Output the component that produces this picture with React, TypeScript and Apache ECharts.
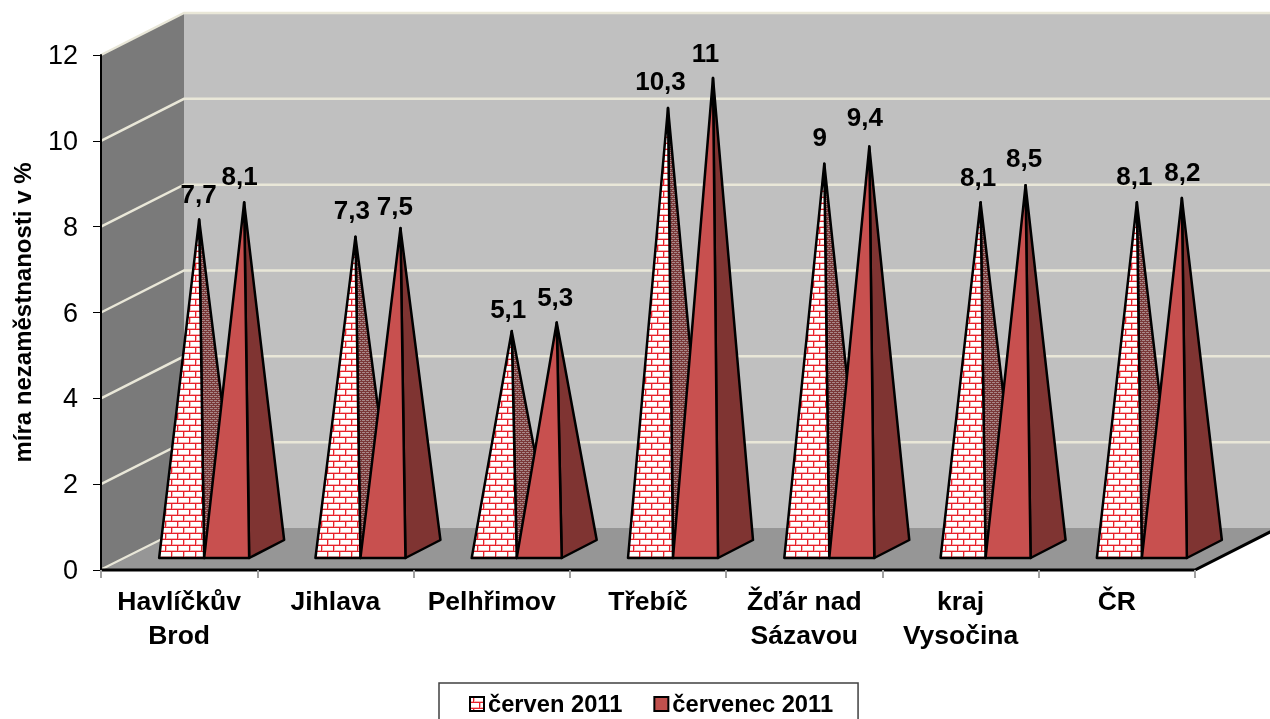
import React, { useEffect, useRef } from "react";
import * as echarts from "echarts";

const categories = ["Havlíčkův\nBrod", "Jihlava", "Pelhřimov", "Třebíč", "Žďár nad\nSázavou", "kraj\nVysočina", "ČR"];
const june = [7.7, 7.3, 5.1, 10.3, 9, 8.1, 8.1];
const july = [8.1, 7.5, 5.3, 11, 9.4, 8.5, 8.2];
const juneName = "červen 2011";
const julyName = "červenec 2011";
const gridValues = [0, 2, 4, 6, 8, 10, 12];
const font = "Liberation Sans, Arial, sans-serif";

// hand nudges of the data labels relative to their apex, as placed in the reference
const juneLabelDx = [0, -3, -3, -7, -4, -2, -2];
const juneLabelDy = [0, -1, 4, -1, -1, 1, 0];
const julyLabelDx = [-4, -5, -1, -7, -4, -1, 1];
const julyLabelDy = [0, 4, 0, 1, -4, -1, 0];

const WALL_DX = 83;
const WALL_DY = 42;
const SLOT = 45;
const DEPTH_X = 35;
const DEPTH_Y = 18;

function brick(size: number, bg: string, halo: string, line: string, lw: number) {
  const c = document.createElement("canvas");
  c.width = size;
  c.height = size;
  const g = c.getContext("2d")!;
  g.fillStyle = bg;
  g.fillRect(0, 0, size, size);
  const h = size / 2;
  const draw = (w: number) => {
    g.fillRect(0, h - w, size, w);
    g.fillRect(0, size - w, size, w);
    g.fillRect(size / 4, 0, w, h);
    g.fillRect((3 * size) / 4, h, w, h);
  };
  g.fillStyle = halo;
  draw(lw + 1);
  g.fillStyle = line;
  draw(lw);
  return c;
}

function App() {
  const ref = useRef<HTMLDivElement>(null);
  useEffect(() => {
    const chart = echarts.init(ref.current!, null, { renderer: "svg" });
    const frontPattern = { image: brick(12, "#ffffff", "#f8b4b4", "#e8202a", 1), repeat: "repeat" };
    const sidePattern = { image: brick(4, "#c8bcbc", "#a88888", "#7a3838", 1), repeat: "repeat" };

    const pyramid = (slotOffset: number, front: any, side: any, labels: number[], ldx: number[], ldy: number[]) =>
      (params: any, api: any) => {
        const i = api.value(0);
        const v = api.value(1);
        const base = api.coord([i, 0]);
        const top = api.coord([i, v]);
        const depthUp = 12;
        const cx = base[0] + (depthUp + DEPTH_Y / 2) * (WALL_DX / WALL_DY) + slotOffset * SLOT + 1;
        const apex = [cx, top[1] - depthUp - DEPTH_Y / 2 + 1];
        const y0 = base[1] - depthUp;
        const x0 = cx - SLOT / 2 - DEPTH_X / 2;
        const x1 = x0 + SLOT;
        const stroke = { stroke: "#000", lineWidth: 2.5, lineJoin: "round" };
        return {
          type: "group",
          children: [
            {
              type: "polygon",
              shape: { points: [[x1, y0], [x1 + DEPTH_X, y0 - DEPTH_Y], apex] },
              style: { fill: side, ...stroke },
            },
            {
              type: "polygon",
              shape: { points: [[x0, y0], [x1, y0], apex] },
              style: { fill: front, ...stroke },
            },
            {
              type: "text",
              x: apex[0] - 0.5 + ldx[i],
              y: apex[1] - 26 + ldy[i],
              style: {
                text: String(labels[i]).replace(".", ","),
                font: `bold 26px ${font}`,
                fill: "#000",
                textAlign: "center",
                textVerticalAlign: "middle",
              },
            },
          ],
        };
      };

    const walls = (params: any, api: any) => {
      const o = api.coord([0, 0]);
      const left = params.coordSys.x;
      const right = left + params.coordSys.width;
      const bottom = o[1];
      const top = api.coord([0, 12])[1];
      const children: any[] = [
        {
          type: "polygon",
          shape: { points: [[left + WALL_DX, top - WALL_DY], [right + WALL_DX, top - WALL_DY], [right + WALL_DX, bottom - WALL_DY], [left + WALL_DX, bottom - WALL_DY]] },
          style: { fill: "#c0c0c0" },
        },
        {
          type: "polygon",
          shape: { points: [[left, top], [left + WALL_DX, top - WALL_DY], [left + WALL_DX, bottom - WALL_DY], [left, bottom]] },
          style: { fill: "#7a7a7a" },
        },
      ];
      gridValues.forEach((g) => {
        const y = api.coord([0, g])[1];
        if (g !== 0) {
          children.push({
            type: "polyline",
            shape: { points: [[left, y], [left + WALL_DX, y - WALL_DY], [right + WALL_DX, y - WALL_DY]] },
            style: { fill: "none", stroke: "#e9e7d8", lineWidth: 2.5 },
          });
        }
      });
      children.push({
        type: "polygon",
        shape: { points: [[left, bottom], [right, bottom], [right + WALL_DX, bottom - WALL_DY], [left + WALL_DX, bottom - WALL_DY]] },
        style: { fill: "#969696" },
      });
      children.push({
        type: "line",
        shape: { x1: left + 1, y1: bottom - 1, x2: left + WALL_DX, y2: bottom - WALL_DY },
        style: { stroke: "#e9e7d8", lineWidth: 2 },
      });
      children.push({
        type: "polyline",
        shape: { points: [[left, bottom], [right, bottom], [right + WALL_DX, bottom - WALL_DY]] },
        style: { fill: "none", stroke: "#000", lineWidth: 3 },
      });
      return { type: "group", children };
    };

    chart.setOption({
      animation: false,
      textStyle: { fontFamily: font },
      grid: { left: 101, right: 75, top: 55, height: 515, containLabel: false },
      legend: {
        data: [juneName, julyName],
        left: 439,
        top: 683,
        orient: "horizontal",
        padding: [9, 25, 8, 30],
        itemGap: 31,
        itemWidth: 14,
        itemHeight: 14,
        icon: "rect",
        borderColor: "#404040",
        borderWidth: 1.5,
        backgroundColor: "#fff",
        textStyle: { fontFamily: font, fontSize: 23.7, fontWeight: "bold", color: "#000", padding: [0, 0, 0, -1] },
      },
      xAxis: {
        type: "category",
        data: categories,
        boundaryGap: true,
        axisLine: { show: false },
        axisTick: { show: true, alignWithLabel: false, length: 8, lineStyle: { color: "#a0a0a0", width: 2 } },
        axisLabel: { interval: 0, color: "#000", fontFamily: font, fontSize: 26.5, fontWeight: "bold", lineHeight: 34, margin: 14 },
        splitLine: { show: false },
      },
      yAxis: {
        type: "value",
        min: 0,
        max: 12,
        interval: 2,
        name: "míra nezaměstnanosti v %",
        nameLocation: "middle",
        nameGap: 67,
        nameTextStyle: { fontFamily: font, fontSize: 24, fontWeight: "bold", color: "#000" },
        axisLine: { show: true, lineStyle: { color: "#000", width: 2 } },
        axisTick: { show: true, length: 8, lineStyle: { color: "#000", width: 1 } },
        axisLabel: { color: "#000", fontFamily: font, fontSize: 27, margin: 23 },
        splitLine: { show: false },
      },
      series: [
        {
          type: "custom",
          name: "walls",
          z: -1,
          silent: true,
          renderItem: walls,
          data: [[0, 12]],
          encode: { x: 0, y: 1 },
          clip: false,
        },
        {
          type: "custom",
          name: juneName,
          z: 3,
          renderItem: pyramid(-0.5, frontPattern, sidePattern, june, juneLabelDx, juneLabelDy),
          data: june.map((v, i) => [i, v]),
          encode: { x: 0, y: 1 },
          itemStyle: { color: frontPattern, borderColor: "#000", borderWidth: 2 },
          clip: false,
        },
        {
          type: "custom",
          name: julyName,
          z: 4,
          renderItem: pyramid(0.5, "#c8504f", "#7f3432", july, julyLabelDx, julyLabelDy),
          data: july.map((v, i) => [i, v]),
          encode: { x: 0, y: 1 },
          itemStyle: { color: "#c0504d", borderColor: "#000", borderWidth: 2 },
          clip: false,
        },
      ],
    });
    return () => chart.dispose();
  }, []);
  return <div ref={ref} style={{ position: "fixed", left: 0, top: 0, width: 1270, height: 719 }} />;
}

export default App;
